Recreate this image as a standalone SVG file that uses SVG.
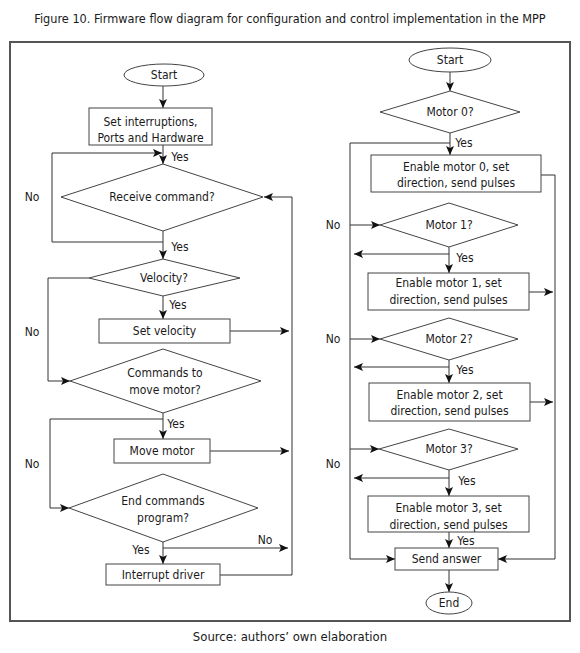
<svg xmlns="http://www.w3.org/2000/svg" width="580" height="653" viewBox="0 0 580 653">
<style>
text{font-family:"Liberation Sans Narrow","DejaVu Sans Condensed","Liberation Sans",sans-serif;font-stretch:condensed;font-size:12px;fill:#1a1a1a;text-anchor:middle}
.shape{fill:#fff;stroke:#444;stroke-width:1}
.ca{fill:none;stroke:#333;stroke-width:1;marker-end:url(#ah)}
</style>
<defs>
<marker id="ah" markerUnits="userSpaceOnUse" markerWidth="10" markerHeight="8" refX="9" refY="4" orient="auto">
<path d="M0,0 L9,4 L0,8 L2,4 Z" fill="#111"/>
</marker>
</defs>
<rect width="580" height="653" fill="#fff"/>
<text x="290" y="23" style="font-size:12.6px">Figure 10. Firmware flow diagram for configuration and control implementation in the MPP</text>
<rect x="10" y="42" width="560" height="579" fill="none" stroke="#555" stroke-width="2"/>
<text x="290" y="641" style="font-size:13px">Source: authors’ own elaboration</text>

<g id="connectors">
<path class="ca" d="M163,86 V108"/>
<path class="ca" d="M163,145 V164"/>
<path class="ca" d="M163,231 V242 H52 V153 H162"/>
<path class="ca" d="M163,242 V259"/>
<path class="ca" d="M89,278 H48 V381 H70"/>
<path class="ca" d="M163,296 V319"/>
<path class="ca" d="M230,331 H289"/>
<path class="ca" d="M163,413 V439"/>
<path class="ca" d="M163,419 H50 V508 H69"/>
<path class="ca" d="M210,451 H289"/>
<path class="ca" d="M163,542 V564"/>
<path class="ca" d="M163,548 H288"/>
<path class="ca" d="M220,575 H292 V197 H264"/>
<path class="ca" d="M450,72 V91"/>
<path class="ca" d="M450,133 V155"/>
<path class="ca" d="M450,143 H350 V559 H395"/>
<path class="ca" d="M541,175 H555 V559 H498"/>
<path class="ca" d="M350,225 H380"/>
<path class="ca" d="M449,247 V273"/>
<path class="ca" d="M449,254 H354"/>
<path class="ca" d="M529,292 H553"/>
<path class="ca" d="M350,339 H380"/>
<path class="ca" d="M449,360 V383"/>
<path class="ca" d="M449,367 H354"/>
<path class="ca" d="M530,402 H553"/>
<path class="ca" d="M350,449 H379"/>
<path class="ca" d="M449,470 V496"/>
<path class="ca" d="M449,478 H354"/>
<path class="ca" d="M449,532 V548"/>
<path class="ca" d="M449,570 V592"/>
<text x="180" y="161">Yes</text>
<text x="32" y="201">No</text>
<text x="180" y="251">Yes</text>
<text x="32" y="336">No</text>
<text x="178" y="309">Yes</text>
<text x="176" y="428">Yes</text>
<text x="32" y="468">No</text>
<text x="141" y="554">Yes</text>
<text x="265" y="544">No</text>
<text x="464" y="147">Yes</text>
<text x="333" y="229">No</text>
<text x="465" y="262">Yes</text>
<text x="333" y="343">No</text>
<text x="465" y="374">Yes</text>
<text x="333" y="468">No</text>
<text x="467" y="485">Yes</text>
<text x="466" y="545">Yes</text>
</g>

<g id="startL"><ellipse class="shape" cx="164" cy="75" rx="40" ry="11"/><text x="164" y="79">Start</text></g>
<g id="setInt"><rect class="shape" x="89" y="108" width="123" height="37"/><text x="150.5" y="126">Set interruptions,</text><text x="150.5" y="142">Ports and Hardware</text></g>
<g id="recv"><polygon class="shape" points="61,197 163,164 263,197 163,231"/><text x="162" y="201">Receive command?</text></g>
<g id="vel"><polygon class="shape" points="89,278 163,259 240,278 163,296"/><text x="164" y="282">Velocity?</text></g>
<g id="setVel"><rect class="shape" x="99" y="319" width="131" height="24"/><text x="164.5" y="335">Set velocity</text></g>
<g id="cmd"><polygon class="shape" points="70,381 163,349 261,381 163,413"/><text x="165" y="377">Commands to</text><text x="165" y="394">move motor?</text></g>
<g id="move"><rect class="shape" x="114" y="439" width="96" height="24"/><text x="162" y="455">Move motor</text></g>
<g id="endCmd"><polygon class="shape" points="69,508 163,474 258,508 163,542"/><text x="163" y="505">End commands</text><text x="163" y="522">program?</text></g>
<g id="intr"><rect class="shape" x="106" y="564" width="114" height="21"/><text x="163" y="579">Interrupt driver</text></g>

<g id="startR"><ellipse class="shape" cx="450" cy="60" rx="41" ry="12"/><text x="450" y="64">Start</text></g>
<g id="m0"><polygon class="shape" points="380,112 450,91 520,112 450,133"/><text x="450" y="116">Motor 0?</text></g>
<g id="b0"><rect class="shape" x="371" y="155" width="170" height="37"/><text x="456" y="171">Enable motor 0, set</text><text x="456" y="187">direction, send pulses</text></g>
<g id="m1"><polygon class="shape" points="380,225 449,203 518,225 449,247"/><text x="449" y="229">Motor 1?</text></g>
<g id="b1"><rect class="shape" x="368" y="273" width="161" height="37"/><text x="448.5" y="287">Enable motor 1, set</text><text x="448.5" y="304">direction, send pulses</text></g>
<g id="m2"><polygon class="shape" points="380,339 449,318 518,339 449,360"/><text x="449" y="343">Motor 2?</text></g>
<g id="b2"><rect class="shape" x="369" y="383" width="161" height="38"/><text x="449.5" y="399">Enable motor 2, set</text><text x="449.5" y="415">direction, send pulses</text></g>
<g id="m3"><polygon class="shape" points="379,449 449,429 518,449 449,470"/><text x="449" y="453">Motor 3?</text></g>
<g id="b3"><rect class="shape" x="368" y="496" width="161" height="36"/><text x="448.5" y="512">Enable motor 3, set</text><text x="448.5" y="529">direction, send pulses</text></g>
<g id="send"><rect class="shape" x="395" y="548" width="103" height="22"/><text x="446.5" y="563">Send answer</text></g>
<g id="endR"><ellipse class="shape" cx="449" cy="603" rx="23" ry="11"/><text x="449" y="607">End</text></g>
</svg>
